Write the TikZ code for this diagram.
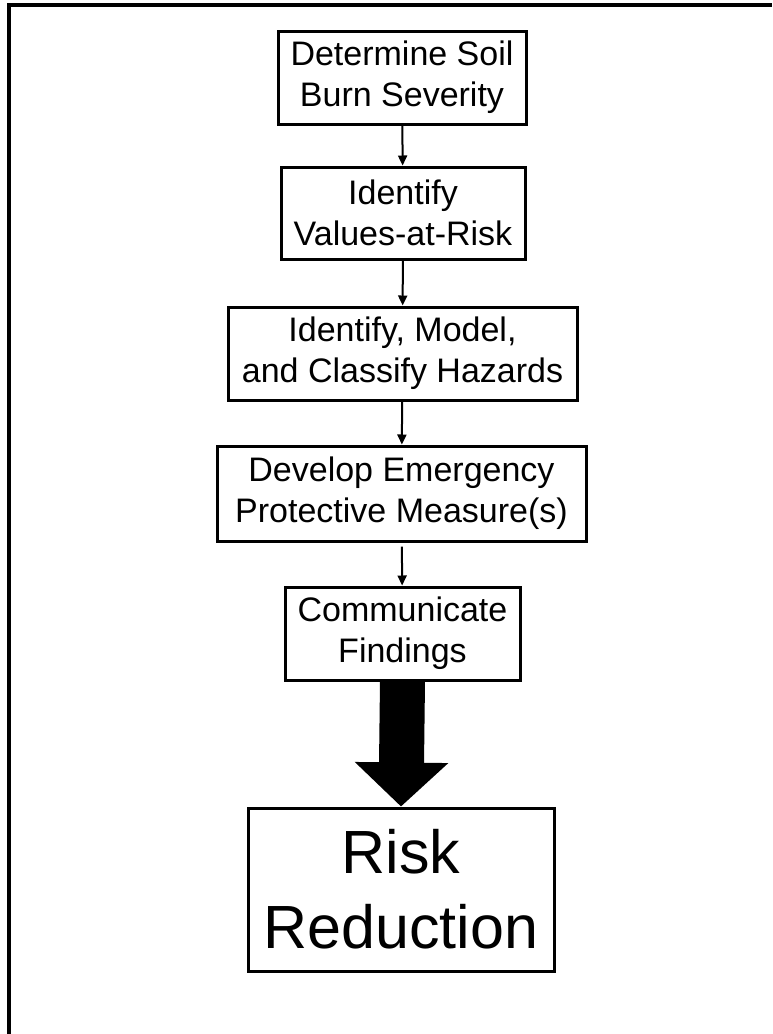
\documentclass[tikz,border=0pt]{standalone}
\usepackage{fontspec}
\setmainfont{Liberation Sans}
\usetikzlibrary{arrows.meta}
\tikzset{
	stepbox/.style={draw, line width=3pt, align=center, inner sep=0pt, font=\fontsize{34}{41}\selectfont},
	flowarrow/.style={line width=2pt, -{Triangle[length=10pt,width=9pt]}}
}
\begin{document}
\begin{tikzpicture}[x=1pt,y=-1pt]
	% Fix the page size
	\useasboundingbox (0,0) rectangle (772,1034);
	
	% Draw the frame (cut off at right and bottom)
	\draw[line width=4pt] (8.5,1034) -- (8.5,5) -- (772,5);
	
	% Draw the steps
	\node[stepbox, minimum width=248pt, minimum height=93pt] (soil) at (402,77.5) {Determine Soil\\Burn Severity};
	\node[stepbox, minimum width=244pt, minimum height=92pt] (values) at (403,213) {Identify\\Values-at-Risk};
	\node[stepbox, minimum width=349pt, minimum height=93pt] (hazards) at (402.5,353.5) {Identify, Model,\\and Classify Hazards};
	\node[stepbox, minimum width=369pt, minimum height=95pt] (measures) at (401.5,493.5) {Develop Emergency\\Protective Measure(s)};
	\node[stepbox, minimum width=235pt, minimum height=93pt] (findings) at (402.5,633.5) {Communicate\\Findings};
	
	% Draw the result box
	\node[stepbox, minimum width=306pt, minimum height=163pt, font=\fontsize{61}{75}\selectfont] (risk) at (401,889.5) {Risk\\Reduction};
	
	% Draw the connecting arrows
	\foreach \from/\to in {soil/values, values/hazards, hazards/measures} {
		\draw[flowarrow] (\from) -- (\to);
	}
	\draw[flowarrow, shorten <=4pt] (measures) -- (findings);
	
	% Draw the big arrow
	\draw[line width=45pt, -{Triangle[width=91pt,length=44pt]}] (findings.south) -- (risk.north);
	
\end{tikzpicture}
\end{document}
